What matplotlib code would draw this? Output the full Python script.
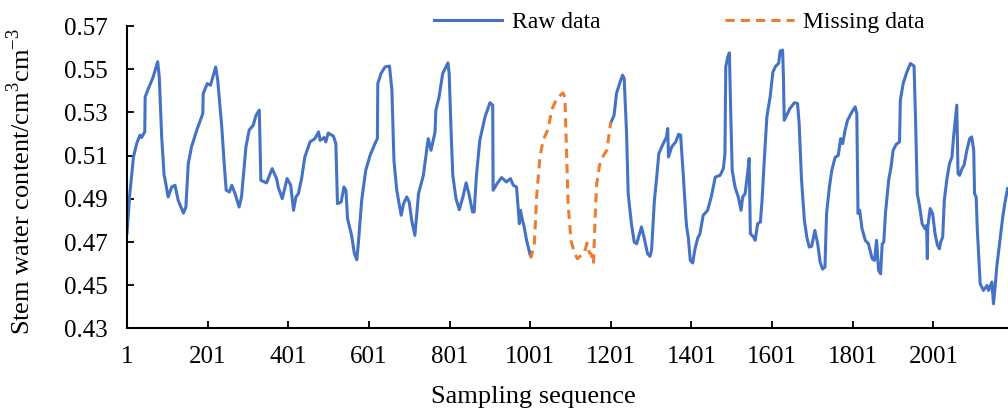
import matplotlib
matplotlib.use("Agg")
import matplotlib.pyplot as plt
import numpy as np

# Raw data before the gap
raw_a_x = [1, 8, 17, 25, 33, 37, 45, 46, 54, 66, 77, 81, 87, 93, 95, 103, 112, 120, 128, 141,
           147, 153, 161, 174, 189, 190, 200, 208, 221, 226, 236, 242, 247, 255, 261, 269, 279, 285, 296, 304,
           314, 321, 329, 333, 347, 361, 372, 376, 386, 398, 407, 414, 420, 426, 434, 442, 455, 467, 476, 480,
           490, 494, 500, 513, 519, 523, 532, 539, 544, 548, 558, 565, 571, 575, 583, 593, 604, 616, 622, 623,
           631, 641, 652, 658, 663, 670, 681, 687, 695, 701, 707, 715, 724, 736, 744, 748, 755, 765, 767, 775,
           784, 797, 800, 805, 809, 817, 825, 834, 842, 849, 858, 862, 868, 876, 889, 901, 908, 909, 919, 930,
           942, 952, 959, 967, 971, 974, 977, 980, 986, 992, 1001]
raw_a_y = [0.4742, 0.4924, 0.5094, 0.5156, 0.5195, 0.5184, 0.5210, 0.5372, 0.5411, 0.5465, 0.5535, 0.5465, 0.5187, 0.5009, 0.4994, 0.4909, 0.4955, 0.4963, 0.4893, 0.4834,
           0.4862, 0.5064, 0.5141, 0.5218, 0.5295, 0.5388, 0.5434, 0.5426, 0.5511, 0.5450, 0.5233, 0.5064, 0.4940, 0.4932, 0.4963, 0.4924, 0.4862, 0.4909, 0.5141, 0.5218,
           0.5241, 0.5287, 0.5311, 0.4986, 0.4974, 0.5040, 0.4994, 0.4955, 0.4901, 0.4994, 0.4963, 0.4847, 0.4909, 0.4924, 0.4994, 0.5094, 0.5164, 0.5179, 0.5210, 0.5171,
           0.5184, 0.5164, 0.5205, 0.5190, 0.5156, 0.4878, 0.4885, 0.4955, 0.4940, 0.4808, 0.4731, 0.4646, 0.4618, 0.4700, 0.4893, 0.5032, 0.5102, 0.5156, 0.5179, 0.5434,
           0.5481, 0.5511, 0.5515, 0.5403, 0.5079, 0.4940, 0.4824, 0.4878, 0.4909, 0.4885, 0.4801, 0.4731, 0.4924, 0.5009, 0.5125, 0.5179, 0.5125, 0.5210, 0.5311, 0.5372,
           0.5481, 0.5530, 0.5481, 0.5203, 0.5009, 0.4901, 0.4850, 0.4909, 0.4974, 0.4924, 0.4839, 0.4840, 0.5017, 0.5171, 0.5280, 0.5345, 0.5334, 0.4940, 0.4971, 0.4999,
           0.4978, 0.4994, 0.4963, 0.4955, 0.4862, 0.4785, 0.4847, 0.4816, 0.4770, 0.4708, 0.4640]

# Missing (filled) section
miss_x = [1001, 1003, 1011, 1017, 1025, 1033, 1046, 1054, 1067, 1082, 1087, 1091, 1095, 1102, 1110,
          1118, 1127, 1135, 1142, 1148, 1152, 1158, 1162, 1166, 1173, 1183, 1191, 1198, 1201]
miss_y = [0.4640, 0.4630, 0.4685, 0.4909, 0.5094, 0.5171, 0.5226, 0.5311, 0.5365, 0.5391, 0.5372, 0.5125, 0.4878, 0.4708, 0.4654,
          0.4623, 0.4638, 0.4649, 0.4695, 0.4649, 0.4646, 0.4600, 0.4816, 0.4971, 0.5056, 0.5102, 0.5125, 0.5218, 0.5256]

# Raw data after the gap
raw_b_x = [1201, 1209, 1215, 1224, 1230, 1234, 1240, 1244, 1252, 1259, 1265, 1277, 1284, 1292, 1298, 1302, 1309, 1314, 1320, 1331,
           1339, 1342, 1344, 1352, 1362, 1369, 1374, 1381, 1387, 1389, 1393, 1398, 1404, 1409, 1416, 1422, 1430, 1441, 1450, 1460,
           1472, 1480, 1484, 1486, 1491, 1495, 1498, 1502, 1509, 1517, 1524, 1528, 1534, 1540, 1544, 1547, 1555, 1559, 1565, 1572,
           1576, 1582, 1588, 1596, 1603, 1610, 1617, 1621, 1627, 1629, 1631, 1637, 1645, 1656, 1664, 1668, 1674, 1681, 1687, 1693,
           1699, 1707, 1714, 1720, 1726, 1732, 1736, 1743, 1749, 1757, 1765, 1771, 1776, 1782, 1788, 1799, 1807, 1811, 1814, 1818,
           1824, 1832, 1840, 1849, 1855, 1860, 1865, 1870, 1874, 1878, 1882, 1890, 1896, 1901, 1909, 1917, 1919, 1926, 1934, 1944,
           1953, 1957, 1961, 1967, 1973, 1980, 1984, 1986, 1987, 1993, 1999, 2005, 2011, 2016, 2019, 2024, 2028, 2034, 2041, 2047,
           2051, 2059, 2062, 2066, 2072, 2077, 2084, 2091, 2096, 2101, 2103, 2107, 2110, 2117, 2125, 2134, 2138, 2146, 2150, 2154,
           2158, 2166, 2173, 2178, 2185]
raw_b_y = [0.5252, 0.5287, 0.5388, 0.5442, 0.5473, 0.5458, 0.5203, 0.4924, 0.4785, 0.4700, 0.4692, 0.4770, 0.4716, 0.4646, 0.4634, 0.4662, 0.4893, 0.4986, 0.5110, 0.5156,
           0.5187, 0.5226, 0.5094, 0.5141, 0.5164, 0.5199, 0.5195, 0.5001, 0.4816, 0.4770, 0.4723, 0.4615, 0.4603, 0.4662, 0.4716, 0.4739, 0.4824, 0.4847, 0.4909, 0.5001,
           0.5009, 0.5040, 0.5110, 0.5511, 0.5558, 0.5576, 0.5326, 0.5032, 0.4955, 0.4909, 0.4847, 0.4909, 0.4924, 0.5017, 0.5087, 0.4739, 0.4723, 0.4708, 0.4785, 0.4793,
           0.4893, 0.5094, 0.5280, 0.5372, 0.5488, 0.5515, 0.5527, 0.5585, 0.5589, 0.5465, 0.5264, 0.5287, 0.5318, 0.5345, 0.5342, 0.5249, 0.4986, 0.4801, 0.4723, 0.4677,
           0.4680, 0.4754, 0.4692, 0.4607, 0.4575, 0.4584, 0.4832, 0.4955, 0.5032, 0.5091, 0.5102, 0.5179, 0.5156, 0.5218, 0.5264, 0.5303, 0.5326, 0.5295, 0.4832, 0.4847,
           0.4762, 0.4708, 0.4692, 0.4623, 0.4615, 0.4708, 0.4569, 0.4553, 0.4692, 0.4700, 0.4832, 0.4986, 0.5048, 0.5125, 0.5153, 0.5164, 0.5357, 0.5434, 0.5481, 0.5527,
           0.5515, 0.5249, 0.4924, 0.4862, 0.4785, 0.4762, 0.4777, 0.4623, 0.4770, 0.4855, 0.4832, 0.4739, 0.4685, 0.4669, 0.4700, 0.4723, 0.4893, 0.4986, 0.5064, 0.5094,
           0.5187, 0.5334, 0.5017, 0.5009, 0.5040, 0.5056, 0.5125, 0.5179, 0.5187, 0.5125, 0.4924, 0.4909, 0.4754, 0.4507, 0.4476, 0.4499, 0.4476, 0.4515, 0.4414, 0.4491,
           0.4584, 0.4708, 0.4816, 0.4878, 0.4948]

x_ticks = [1, 201, 401, 601, 801, 1001, 1201, 1401, 1601, 1801, 2001]
y_ticks = [0.43, 0.45, 0.47, 0.49, 0.51, 0.53, 0.55, 0.57]

plt.rcParams["font.family"] = ["Liberation Serif", "DejaVu Serif"]
plt.rcParams["mathtext.fontset"] = "custom"
plt.rcParams["mathtext.rm"] = "Liberation Serif"

blue = "#4472C4"
orange = "#ED7D31"

fig = plt.figure(figsize=(10.08, 4.08), dpi=100)
ax = fig.add_axes([0.126, 0.195, 0.874, 0.741])

ax.plot(raw_a_x, raw_a_y, color=blue, lw=2.2, label="Raw data")
ax.plot(raw_b_x, raw_b_y, color=blue, lw=2.2)
ax.plot(miss_x, miss_y, color=orange, lw=2.2, dashes=(3, 2), label="Missing data")

ax.set_xlim(1, 2186)
ax.set_ylim(0.43, 0.57)
ax.set_xticks(x_ticks)
ax.set_yticks(y_ticks)
ax.set_yticklabels([f"{v:.2f}" for v in y_ticks])
ax.tick_params(direction="in", length=5, width=1.3, labelsize=18, pad=13)
ax.tick_params(axis="y", pad=14)

for side in ["top", "right"]:
    ax.spines[side].set_visible(False)
for side in ["left", "bottom"]:
    ax.spines[side].set_linewidth(1.5)

ax.set_xlabel("Sampling sequence", fontsize=19)
ax.set_ylabel("Stem water content/cm$^{3}$cm$^{-3}$", fontsize=19)
ax.xaxis.set_label_coords(0.461, -0.192)
ax.yaxis.set_label_coords(-0.104, 0.487)

fig.legend(loc="center", bbox_to_anchor=(0.674, 0.946), ncol=2, frameon=False,
           fontsize=17, handlelength=2.9, handletextpad=0.4, columnspacing=5.3)

plt.savefig("out.png", dpi=100)
